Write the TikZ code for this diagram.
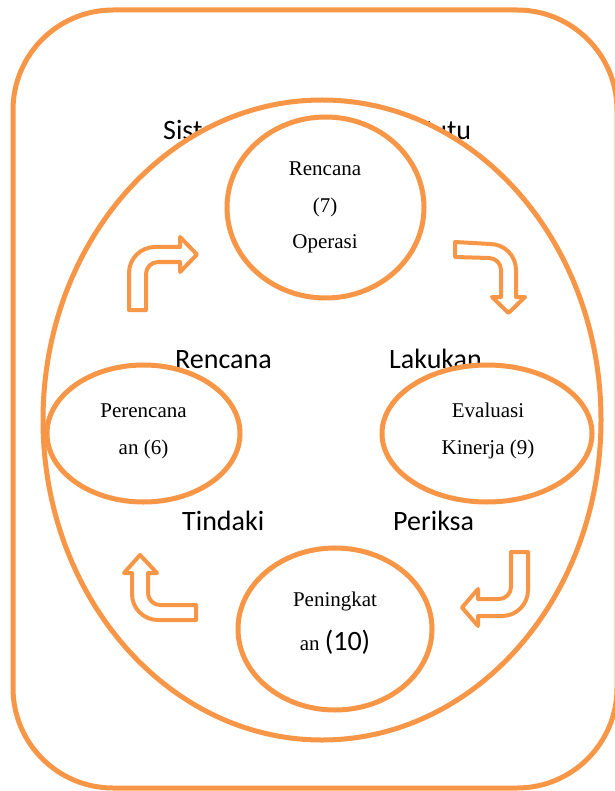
\documentclass[tikz,border=0pt]{standalone}
\usepackage{fontspec}
\setmainfont{Liberation Serif}
\newfontfamily\carlito{Carlito}
\usetikzlibrary{shapes.geometric}
\definecolor{accorange}{HTML}{F79646}
\tikzset{
  ring/.style={draw=accorange, line width=5pt, fill=white, ellipse, inner sep=0pt},
  blockarrow/.style={draw=accorange, line width=4pt, fill=white, line join=round},
  cyclelbl/.style={font=\carlito\fontsize{28}{34}\selectfont, inner sep=0pt, anchor=base west},
  inner/.style={font=\fontsize{21}{25}\selectfont, inner sep=0pt, anchor=base}
}
\begin{document}
\begin{tikzpicture}[x=1pt,y=-1pt]
\useasboundingbox (0,0) rectangle (614,791);
% outer frame
\draw[draw=accorange, line width=5pt, rounded corners=100pt] (13,10) rectangle (617,788);
% title (partly hidden by the big ellipse)
\node[cyclelbl] (title) at (163,140) {\makebox[308pt][s]{Sistem Manajemen Mutu}};
% big ellipse
\node[ring, minimum width=558pt, minimum height=640pt] (system) at (322,420) {};
% cycle labels
\node[cyclelbl] (lblplan) at (175,368) {Rencana};
\node[cyclelbl] (lbldo) at (389,368) {Lakukan};
\node[cyclelbl] (lblact) at (182,530) {Tindaki};
\node[cyclelbl] (lblcheck) at (393,530) {Periksa};
% inner ellipses
\node[ring, minimum width=197pt, minimum height=181pt] (ops) at (325.5,207.5) {};
\node[ring, minimum width=193pt, minimum height=137pt] (plan) at (143.5,433.5) {};
\node[ring, minimum width=210pt, minimum height=137pt] (eval) at (487,433.5) {};
\node[ring, minimum width=194pt, minimum height=162pt] (impr) at (335,629) {};
% texts in inner ellipses
\node[inner] (opsA) at (325,176) {Rencana};
\node[inner] (opsB) at (325,213) {(7)};
\node[inner] (opsC) at (325,249) {Operasi};
\node[inner] (planA) at (143.5,417) {Perencana};
\node[inner] (planB) at (143.5,454) {an (6)};
\node[inner] (evalA) at (488,417) {Evaluasi};
\node[inner] (evalB) at (488,454) {Kinerja (9)};
\node[inner] (imprA) at (335,606) {Peningkat};
\node[inner] (imprB) at (335,650) {an {\carlito\fontsize{28}{34}\selectfont (10)}};
% block arrows
\draw[blockarrow] (129,310) -- (129,273) .. controls (129,258.6) and (140.6,247) .. (155,247)
  -- (180,247) -- (180,237) -- (197,254.5) -- (180,272) -- (180,262) -- (158,262)
  .. controls (151.4,262) and (146,267.4) .. (146,274) -- (146,310) -- cycle;
\draw[blockarrow] (455,242) -- (490,244) .. controls (504.4,244) and (516,255.6) .. (516,270)
  -- (516,297) -- (525,297) -- (508.5,313) -- (492,297) -- (501,297) -- (501,270)
  .. controls (501,263.4) and (495.6,258) .. (489,258) -- (455,257) -- cycle;
\draw[blockarrow] (511,552) -- (528,552) -- (528,590) .. controls (528,604.4) and (516.4,616) .. (502,616)
  -- (478,616) -- (478,626) -- (462,607.5) -- (478,589) -- (478,599) -- (499,599)
  .. controls (505.6,599) and (511,593.6) .. (511,587) -- cycle;
\draw[blockarrow] (196,605) -- (196,620) -- (158,620) .. controls (143.6,620) and (132,608.4) .. (132,594)
  -- (132,573) -- (124,573) -- (140,555) -- (157,573) -- (148,573) -- (148,593)
  .. controls (148,599.6) and (153.4,605) .. (160,605) -- cycle;
\end{tikzpicture}
\end{document}
